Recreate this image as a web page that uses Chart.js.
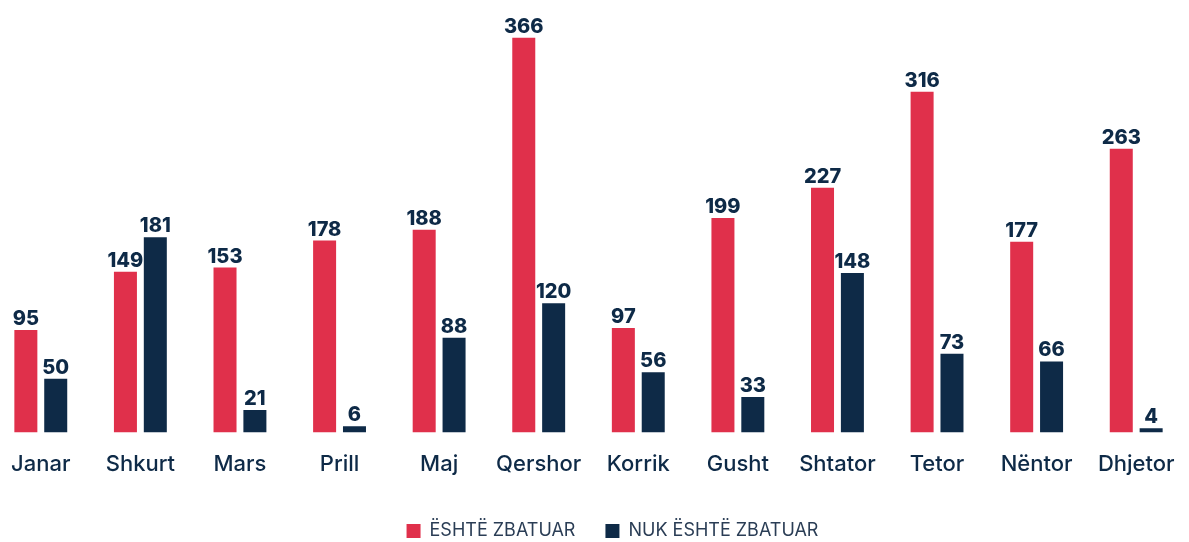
<!DOCTYPE html>
<html>
<head>
<meta charset="utf-8">
<script src="https://cdn.jsdelivr.net/npm/chart.js@4.4.0/dist/chart.umd.min.js"></script>
<style>
  html, body { margin: 0; padding: 0; background: #fff; overflow: hidden; }
  #wrap { position: absolute; left: -9px; top: 0; width: 1195px; height: 550px; }
</style>
</head>
<body>
<div id="wrap"><canvas id="c"></canvas></div>
<script>
const months = ['Janar', 'Shkurt', 'Mars', 'Prill', 'Maj', 'Qershor', 'Korrik', 'Gusht', 'Shtator', 'Tetor', 'Nëntor', 'Dhjetor'];
const zbatuar = [95, 149, 153, 178, 188, 366, 97, 199, 227, 316, 177, 263];
const nukZbatuar = [50, 181, 21, 6, 88, 120, 56, 33, 148, 73, 66, 4];

const RED = '#e0304b';
const NAVY = '#0e2a47';
const TEXT = '#0e2a47';

// etiquetas sobre cada barra + leyenda desplazada a la derecha
const valueLabels = {
  id: 'valueLabels',
  afterLayout(chart) {
    chart.legend.left += 24;
    chart.legend.right += 24;
  },
  afterDatasetsDraw(chart) {
    const { ctx } = chart;
    ctx.save();
    ctx.font = '800 20px Inter';
    ctx.fillStyle = TEXT;
    ctx.textAlign = 'center';
    ctx.textBaseline = 'alphabetic';
    chart.data.datasets.forEach((ds, i) => {
      chart.getDatasetMeta(i).data.forEach((bar, j) => {
        ctx.fillText(String(ds.data[j]), bar.x, bar.y - 5);
      });
    });
    ctx.restore();
  }
};

new Chart(document.getElementById('c'), {
  type: 'bar',
  data: {
    labels: months,
    datasets: [
      { label: 'ËSHTË ZBATUAR', data: zbatuar, backgroundColor: RED },
      { label: 'NUK ËSHTË ZBATUAR', data: nukZbatuar, backgroundColor: NAVY }
    ]
  },
  options: {
    responsive: true,
    maintainAspectRatio: false,
    animation: false,
    layout: { padding: 0 },
    datasets: { bar: { barPercentage: 0.77, categoryPercentage: 0.6 } },
    scales: {
      x: {
        grid: { display: false },
        border: { display: false },
        ticks: { color: TEXT, font: { family: 'Inter', size: 22, weight: '500' }, padding: 11 },
        afterFit: (s) => { s.height += 3; }
      },
      y: {
        display: false,
        min: 0,
        max: 401,
        grid: { display: false }
      }
    },
    plugins: {
      legend: {
        position: 'bottom',
        labels: {
          color: '#2a3d55',
          font: { family: 'Inter', size: 18 },
          boxWidth: 14,
          boxHeight: 14,
          padding: 30
        }
      },
      tooltip: { enabled: false }
    }
  },
  plugins: [valueLabels]
});
</script>
</body>
</html>
